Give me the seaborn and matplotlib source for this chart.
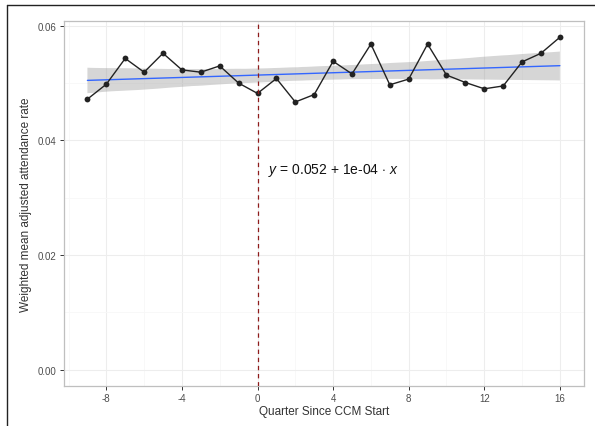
import numpy as np
import pandas as pd
import matplotlib
matplotlib.use("Agg")
import matplotlib.pyplot as plt
import seaborn as sns
from matplotlib.collections import PolyCollection
from matplotlib.lines import Line2D

# ---- data ----
quarters = list(range(-9, 17))
attendance = [0.0472, 0.0498, 0.0543, 0.0519, 0.0552, 0.0523, 0.0519, 0.0530, 0.0500,
              0.0482, 0.0508, 0.0467, 0.0480, 0.0538, 0.0516, 0.0568, 0.0497, 0.0507,
              0.0568, 0.0514, 0.0501, 0.0490, 0.0495, 0.0537, 0.0552, 0.0580]
x_ticks = [-8, -4, 0, 4, 8, 12, 16]
y_ticks = [0.00, 0.02, 0.04, 0.06]
y_tick_labels = ["0.00", "0.02", "0.04", "0.06"]
x_label = "Quarter Since CCM Start"
y_label = "Weighted mean adjusted attendance rate"
equation = r"$y$ = 0.052 + 1e-04 $\cdot$ $x$"

df = pd.DataFrame({"quarter": quarters, "rate": attendance})

sns.set_theme(style="white")
plt.rcParams["font.family"] = ["Liberation Sans", "DejaVu Sans"]
plt.rcParams["axes.unicode_minus"] = False
plt.rcParams["mathtext.fontset"] = "custom"
plt.rcParams["mathtext.it"] = "Liberation Sans:italic"
plt.rcParams["mathtext.rm"] = "Liberation Sans"

fig = plt.figure(figsize=(5.95, 4.27), dpi=100)
ax = fig.add_axes([0.1072, 0.093, 0.9807 - 0.1072, 0.9494 - 0.093])

# grid
ax.set_xticks([-10, -6, -2, 2, 6, 10, 14], minor=True)
ax.set_yticks([0.01, 0.03, 0.05], minor=True)
ax.grid(True, which="major", color="#EDEDED", linewidth=0.8, zorder=0)
ax.grid(True, which="minor", color="#F7F7F7", linewidth=0.6, zorder=0)
ax.set_axisbelow(True)

# regression fit with CI band
sns.regplot(data=df, x="quarter", y="rate", scatter=False, ci=95, seed=3,
            color="#999999", line_kws={"color": "#3366FF", "lw": 1.0, "zorder": 3}, ax=ax)
for coll in ax.collections:
    if isinstance(coll, PolyCollection):
        coll.set_facecolor("#999999")
        coll.set_edgecolor("none")
        coll.set_alpha(0.4)
        coll.set_zorder(2)

# observed series
sns.lineplot(data=df, x="quarter", y="rate", color="#222222", lw=1.0, marker="o",
             markersize=4.2, markeredgewidth=0, ax=ax, zorder=4)

ax.axvline(0, color="#8E1B1B", linestyle=(0, (3.5, 3)), lw=0.9, zorder=5)

ax.text(4, 0.0350, equation, ha="center", va="center", fontsize=10, color="#111111")

ax.set_xlim(-10.25, 17.25)
ax.set_ylim(-0.0029, 0.0609)
ax.set_xticks(x_ticks)
ax.set_xticklabels([str(t) for t in x_ticks])
ax.set_yticks(y_ticks)
ax.set_yticklabels(y_tick_labels)
ax.tick_params(axis="both", which="major", length=3, width=0.7, color="#333333",
               labelsize=7, labelcolor="#4D4D4D", pad=2, bottom=True, left=True)
ax.tick_params(axis="both", which="minor", length=0)
ax.set_xlabel(x_label, fontsize=8.5, color="#333333", labelpad=1)
ax.set_ylabel(y_label, fontsize=8.5, color="#333333", labelpad=4)
for s in ax.spines.values():
    s.set_color("#BFBFBF")
    s.set_linewidth(0.9)

# outer frame lines (left and top)
fig.add_artist(Line2D([7 / 595, 7 / 595], [0, 1 - 6 / 427], color="#222222", lw=1.0,
                      transform=fig.transFigure))
fig.add_artist(Line2D([7 / 595, 1], [1 - 6 / 427, 1 - 6 / 427], color="#222222", lw=1.0,
                      transform=fig.transFigure))

fig.savefig("out.png", dpi=100)
